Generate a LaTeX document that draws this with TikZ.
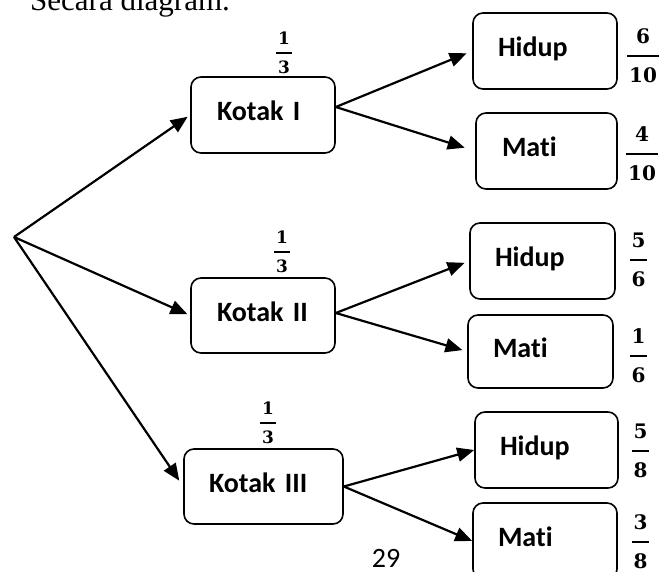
\documentclass[tikz,border=0pt]{standalone}
\usepackage{fontspec}
\setmainfont{Carlito}[Ligatures={NoCommon}]
\newfontfamily\serf{Liberation Serif}
\newfontfamily\frfont{DejaVu Serif}
\usetikzlibrary{arrows.meta}
\newcommand\frc[4]{\vbox{\offinterlineskip\frfont\bfseries\fontsize{#1}{#1}\selectfont
 \halign{\hfil\kern2pt##\kern2pt\hfil\cr #3\cr\noalign{\kern#2\hrule height1.8pt\kern#2}#4\cr}}}
\begin{document}
\begin{tikzpicture}[x=1pt,y=-1pt,
 box/.style={draw, line width=1.6pt, rounded corners=10pt, align=left, inner ysep=0pt,
   text height=20pt, text depth=9pt, font=\fontsize{28}{32}\selectfont\bfseries},
 arr/.style={line width=2.2pt, -{Triangle[length=17pt,width=14pt]}},
 fr/.style={inner sep=0pt}]
\useasboundingbox (0,0) rectangle (662,571);
\clip (0,0) rectangle (662,571);
\fill[white] (0,0) rectangle (662,571);
% header
\node[anchor=base west, inner sep=0pt, font=\serf\fontsize{31}{36}\selectfont] (head) at (30,10.5) {Secara diagram.};
\coordinate (root) at (14,237);
% level 1 boxes
\node[box, minimum height=76pt, text width=92pt, inner xsep=26pt] (K1) at (263,115) {Kotak I};
\node[box, minimum height=75pt, text width=92pt, inner xsep=26pt] (K2) at (263,315.5) {Kotak II};
\node[box, minimum height=75pt, text width=109pt, inner xsep=25pt] (K3) at (263.5,486.5) {Kotak III};
% level 2 boxes
\node[box, minimum height=76pt, text width=94pt, inner xsep=25pt] (H1) at (545,51) {Hidup};
\node[box, minimum height=76pt, text width=89pt, inner xsep=26pt] (M1) at (546.5,151) {Mati};
\node[box, minimum height=76pt, text width=95pt, inner xsep=25pt] (H2) at (542.5,261) {Hidup};
\node[box, minimum height=73pt, text width=95pt, inner xsep=25pt] (M2) at (540.5,351.5) {Mati};
\node[box, minimum height=76pt, text width=93pt, inner xsep=25pt] (H3) at (546.5,450) {Hidup};
\node[box, minimum height=76pt, text width=94pt, inner xsep=25pt] (M3) at (545,541) {Mati};
% fractions
\node[fr] (f1) at (284,53) {\frc{17pt}{7.5pt}{1}{3}};
\node[fr] (f2) at (282,252) {\frc{17pt}{7.5pt}{1}{3}};
\node[fr] (f3) at (268,423) {\frc{17pt}{7.5pt}{1}{3}};
\node[fr] (f4) at (643,56) {\frc{20pt}{11pt}{6}{10}};
\node[fr] (f5) at (642,154) {\frc{20pt}{11pt}{4}{10}};
\node[fr] (f6) at (638.5,260) {\frc{20pt}{11pt}{5}{6}};
\node[fr] (f7) at (638.5,356) {\frc{20pt}{11pt}{1}{6}};
\node[fr] (f8) at (640.5,451) {\frc{20pt}{11pt}{5}{8}};
\node[fr] (f9) at (640.5,542) {\frc{20pt}{11pt}{3}{8}};
% page number
\node[anchor=base, inner sep=0pt, font=\fontsize{28}{32}\selectfont] (pg) at (386,567) {29};
% connectors
\draw[arr, shorten >=3pt] (root) -- (K1.west);
\draw[arr, shorten >=3pt] (root) -- (K2.west);
\draw[arr, shorten >=7pt] (root) -- (K3.west);
\draw[arr, shorten >=6pt] ([yshift=8pt]K1.east) -- (H1.west);
\draw[arr, shorten >=11pt] ([yshift=8pt]K1.east) -- (M1.west);
\draw[arr, shorten >=5pt] ([yshift=2.5pt]K2.east) -- (H2.west);
\draw[arr, shorten >=5pt] ([yshift=2.5pt]K2.east) -- (M2.west);
\draw[arr] (K3.east) -- (H3.west);
\draw[arr] (K3.east) -- (M3.west);
\end{tikzpicture}
\end{document}
